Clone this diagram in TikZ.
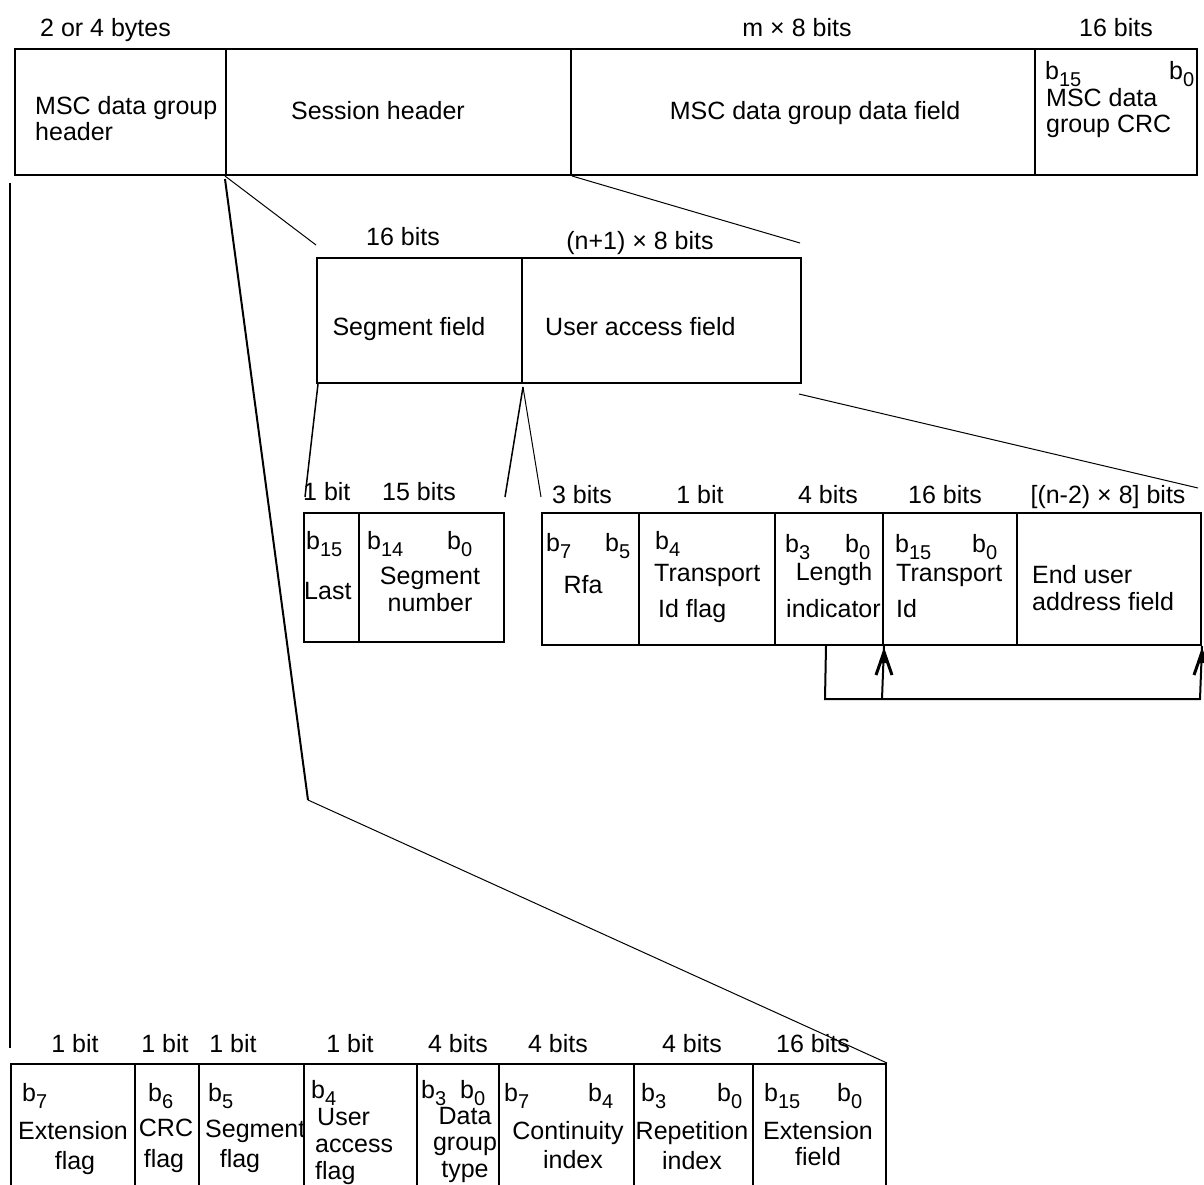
\documentclass[tikz,border=0pt]{standalone}
\usepackage{fontspec}
\setmainfont{Liberation Sans}
\newcommand\bsub[1]{b\raisebox{-7pt}{\fontsize{20}{20}\selectfont #1}}
\newcommand\mkcell[5]{\node[cell, minimum width=#4pt, minimum height=#5pt] (#1) at (#2,#3) {};}
\newcommand\spike[1]{%
  \fill (#1) -- ++(-5,14) -- ++(10,0) -- cycle;
  \draw[line width=3pt, line join=miter, miter limit=10] ([shift={(-8,26)}]#1) -- ([shift={(0,3)}]#1) -- ([shift={(8,26)}]#1);}
\begin{document}
\begin{tikzpicture}[x=1pt,y=-1pt,
  cell/.style={draw, line width=2pt, inner sep=0pt, anchor=north west},
  txt/.style={inner sep=0pt, font=\fontsize{25}{27}\selectfont, anchor=base},
  txtw/.style={txt, anchor=base west},
  thinline/.style={line width=1pt},
  midline/.style={line width=1.5pt},
  thickline/.style={line width=2pt}
]
\useasboundingbox (0,0) rectangle (1204,1184);
\clip (0,0) rectangle (1204,1184);
\fill[white] (0,0) rectangle (1204,1184);

% ---- top row
\mkcell{hdr}{14}{48}{211}{126}
\mkcell{sess}{225}{48}{345}{126}
\mkcell{dataf}{570}{48}{464}{126}
\mkcell{crc}{1034}{48}{162}{126}
% ---- second row
\mkcell{seg}{316}{257}{205}{125}
\mkcell{uaf}{521}{257}{279}{125}
% ---- third row
\mkcell{last}{303}{512}{55}{129}
\mkcell{segnum}{358}{512}{145}{129}
\mkcell{rfa}{541}{512}{97}{132}
\mkcell{tidf}{638}{512}{136}{132}
\mkcell{len}{774}{512}{108}{132}
\mkcell{tid}{882}{512}{134}{132}
\mkcell{eua}{1016}{512}{184}{132}
% ---- bottom row
\mkcell{ext}{10}{1063}{124}{140}
\mkcell{crcf}{134}{1063}{64}{140}
\mkcell{segf}{198}{1063}{105}{140}
\mkcell{uafl}{303}{1063}{113}{140}
\mkcell{dgt}{416}{1063}{82}{140}
\mkcell{cont}{498}{1063}{135}{140}
\mkcell{rep}{633}{1063}{119}{140}
\mkcell{extf}{752}{1063}{133}{140}

% ---- connectors
\coordinate (c1) at (316,245);
\coordinate (c2) at (800,243);
\coordinate (c3) at (308,800);
\coordinate (v1) at (10,183);
\coordinate (v2) at (10,1048);
\draw[thinline] (sess.south west) -- (c1);
\draw[thinline] (sess.south east) -- (c2);
\draw[thickline] ([yshift=-3pt]sess.south west) -- (c3);
\draw[thinline] (c3) -- (extf.north east);
\draw[midline] (v1) -- (v2);

\coordinate (d1) at (305,497);
\coordinate (d2) at (505,497);
\coordinate (d3) at (541,497);
\coordinate (d5) at (1198,488);
\draw[midline] ([xshift=2pt]seg.south west) -- (d1);
\draw[midline] ([yshift=-3pt]seg.south east) -- (d2);
\draw[thinline] ([yshift=-3pt]seg.south east) -- (d3);
\draw[thinline] ([xshift=-3pt,yshift=-10pt]uaf.south east) -- (d5);

\coordinate (f1) at (825,699);
\coordinate (f2) at (882,699);
\coordinate (f3) at (1200,699);
\coordinate (tipa) at ([yshift=-3pt]len.south east);
\coordinate (tipb) at ([yshift=-3pt]eua.south east);
\draw[thickline] ([xshift=-3pt]len.south) -- (f1) -- (f3) -- (eua.south east);
\draw[thickline] (f2) -- (len.south east);
\spike{tipa}
\spike{tipb}

% ---- top texts
\node[txtw] (a1) at (40,36) {2 or 4 bytes};
\node[txt] (a2) at (797,36) {m × 8 bits};
\node[txt] (a3) at (1116,36) {16 bits};
\node[txtw] (a4) at (35,114) {MSC data group};
\node[txtw] (a5) at (35,140) {header};
\node[txt] (a6) at (378,119) {Session header};
\node[txt] (a7) at (815,119) {MSC data group data field};
\node[txtw] (a8) at (1045,79) {\bsub{15}};
\node[txtw] (a9) at (1169,79) {\bsub{0}};
\node[txtw] (a10) at (1046,106) {MSC data};
\node[txtw] (a11) at (1046,132) {group CRC};

% ---- second row texts
\node[txt] (b1) at (403,245) {16 bits};
\node[txt] (b2) at (640,249) {(n+1) × 8 bits};
\node[txt] (b3) at (409,335) {Segment field};
\node[txtw] (b4) at (545,335) {User access field};

% ---- third row texts (left)
\node[txtw] (e1) at (303,500) {1 bit};
\node[txt] (e2) at (419,500) {15 bits};
\node[txtw] (e3) at (306,549) {\bsub{15}};
\node[txtw] (e4) at (304,599) {Last};
\node[txtw] (e5) at (367,549) {\bsub{14}};
\node[txtw] (e6) at (447,549) {\bsub{0}};
\node[txt] (e7) at (430,584) {Segment};
\node[txt] (e8) at (430,611) {number};

% ---- third row texts (right)
\node[txt] (g1) at (582,503) {3 bits};
\node[txt] (g2) at (700,503) {1 bit};
\node[txt] (g3) at (828,503) {4 bits};
\node[txt] (g4) at (945,503) {16 bits};
\node[txt] (g5) at (1108,503) {[(n-2) × 8] bits};
\node[txtw] (g6) at (546,551) {\bsub{7}};
\node[txtw] (g7) at (605,551) {\bsub{5}};
\node[txt] (g8) at (583,593) {Rfa};
\node[txtw] (g9) at (655,549) {\bsub{4}};
\node[txtw] (g10) at (654,581) {Transport};
\node[txtw] (g11) at (658,617) {Id flag};
\node[txtw] (g12) at (785,552) {\bsub{3}};
\node[txtw] (g13) at (845,552) {\bsub{0}};
\node[txt] (g14) at (834,580) {Length};
\node[txtw] (g15) at (786,617) {indicator};
\node[txtw] (g16) at (895,552) {\bsub{15}};
\node[txtw] (g17) at (972,552) {\bsub{0}};
\node[txtw] (g18) at (896,581) {Transport};
\node[txtw] (g19) at (896,617) {Id};
\node[txtw] (g20) at (1032,583) {End user};
\node[txtw] (g21) at (1032,610) {address field};

% ---- bottom row texts
\node[txt] (h1) at (75,1052) {1 bit};
\node[txt] (h2) at (165,1052) {1 bit};
\node[txt] (h3) at (233,1052) {1 bit};
\node[txt] (h4) at (350,1052) {1 bit};
\node[txt] (h5) at (458,1052) {4 bits};
\node[txt] (h6) at (558,1052) {4 bits};
\node[txt] (h7) at (692,1052) {4 bits};
\node[txt] (h8) at (813,1052) {16 bits};

\node[txtw] (k1) at (22,1101) {\bsub{7}};
\node[txt] (k2) at (73,1139) {Extension};
\node[txt] (k3) at (75,1169) {flag};
\node[txtw] (k4) at (148,1101) {\bsub{6}};
\node[txt] (k5) at (166,1136) {CRC};
\node[txt] (k6) at (164,1167) {flag};
\node[txtw] (k7) at (208,1101) {\bsub{5}};
\node[txtw] (k8) at (205,1137) {Segment};
\node[txt] (k9) at (240,1167) {flag};
\node[txtw] (k10) at (311,1098) {\bsub{4}};
\node[txtw] (k11) at (317,1125) {User};
\node[txtw] (k12) at (315,1152) {access};
\node[txtw] (k13) at (315,1179) {flag};
\node[txtw] (k14) at (421,1098) {\bsub{3}};
\node[txtw] (k15) at (460,1098) {\bsub{0}};
\node[txt] (k16) at (465,1124) {Data};
\node[txt] (k17) at (465,1150) {group};
\node[txt] (k18) at (465,1177) {type};
\node[txtw] (k19) at (504,1101) {\bsub{7}};
\node[txtw] (k20) at (588,1101) {\bsub{4}};
\node[txt] (k21) at (568,1139) {Continuity};
\node[txt] (k22) at (573,1168) {index};
\node[txtw] (k23) at (641,1101) {\bsub{3}};
\node[txtw] (k24) at (717,1101) {\bsub{0}};
\node[txt] (k25) at (692,1139) {Repetition};
\node[txt] (k26) at (692,1169) {index};
\node[txtw] (k27) at (764,1101) {\bsub{15}};
\node[txtw] (k28) at (837,1101) {\bsub{0}};
\node[txt] (k29) at (818,1139) {Extension};
\node[txt] (k30) at (818,1165) {field};
\end{tikzpicture}
\end{document}
